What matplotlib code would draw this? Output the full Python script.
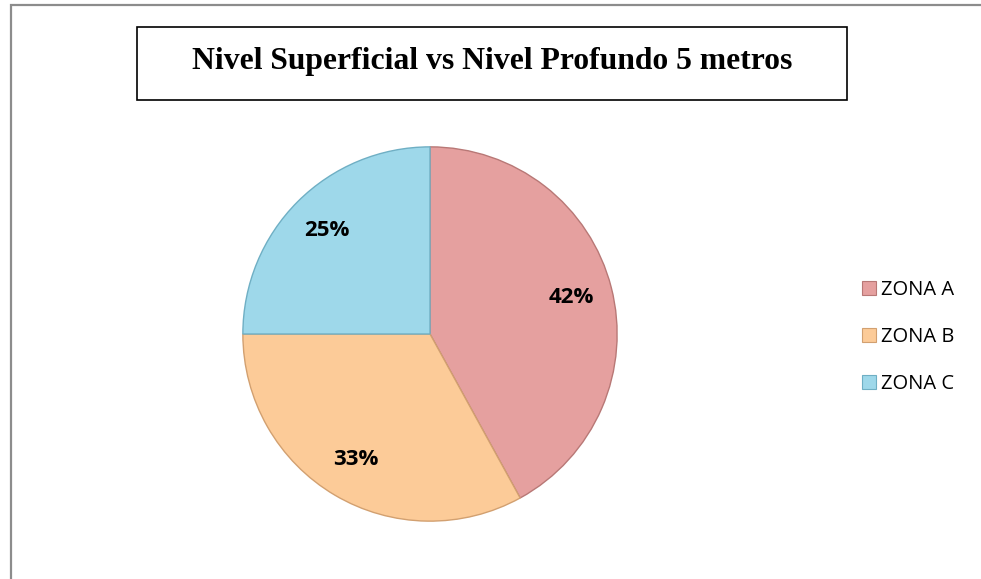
import matplotlib.pyplot as plt
from matplotlib.patches import Rectangle

zonas = ['ZONA A', 'ZONA B', 'ZONA C']
valores = [42, 33, 25]
colores = ['#E5A09F', '#FCCB98', '#9ED8EA']
bordes = ['#B87876', '#D2A070', '#6FAFC4']

W, H = 981, 579
fig = plt.figure(figsize=(W / 100, H / 100), dpi=100)

# marco exterior
fig.add_artist(Rectangle((11 / W, -0.05), 1.1, (579 - 5) / H + 0.05,
                         transform=fig.transFigure, fill=False,
                         edgecolor='#8c8c8c', linewidth=1.6))

# titulo en recuadro
fig.add_artist(Rectangle((137 / W, (579 - 100) / H), 710 / W, 73 / H,
                         transform=fig.transFigure, fill=False,
                         edgecolor='black', linewidth=1.2))
fig.text(492 / W, (579 - 61) / H, 'Nivel Superficial vs Nivel Profundo 5 metros',
         ha='center', va='center', fontsize=22.8, fontweight='bold',
         family='Liberation Serif')

# pastel
cx, cy, r = 430, 334, 189
ax = fig.add_axes([(cx - r) / W, (H - cy - r) / H, 2 * r / W, 2 * r / H])
wedges, _, autotexts = ax.pie(valores, colors=colores, startangle=90,
                              counterclock=False, radius=1.0,
                              autopct='%1.0f%%', pctdistance=0.78,
                              wedgeprops=dict(linewidth=1.0))
for w, b in zip(wedges, bordes):
    w.set_edgecolor(b)
for t in autotexts:
    t.set_fontsize(16)
    t.set_fontweight('bold')
    t.set_family('Open Sans')
ax.set_xlim(-1.01, 1.01)
ax.set_ylim(-1.01, 1.01)
ax.set_aspect('equal')

# leyenda
handles = [Rectangle((0, 0), 1, 1, facecolor=c, edgecolor=b, linewidth=0.8)
           for c, b in zip(colores, bordes)]
fig.legend(handles, zonas, loc='center left',
           bbox_to_anchor=(862 / W, (579 - 337) / H), frameon=False,
           prop={'family': 'Open Sans', 'size': 14.5},
           borderpad=0, borderaxespad=0,
           handlelength=0.7, handleheight=0.7, handletextpad=0.25,
           labelspacing=1.35)

fig.savefig('out.png', dpi=100)
